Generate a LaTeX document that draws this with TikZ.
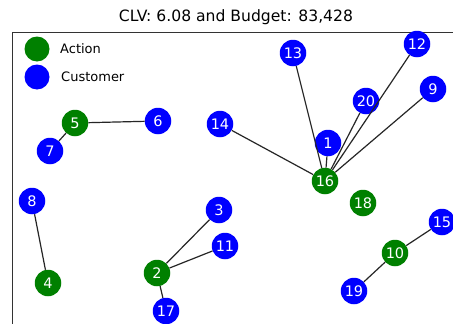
\documentclass[tikz,border=0pt]{standalone}
\usepackage{fontspec}
\setmainfont{DejaVu Sans}
\definecolor{ngreen}{RGB}{0,128,0}
\definecolor{nblue}{RGB}{0,0,255}
\begin{document}
\begin{tikzpicture}[x=1pt,y=-1pt,
  act/.style={circle,fill=ngreen,text=white,minimum size=26.5pt,inner sep=0pt,font=\fontsize{14.5}{15}\selectfont},
  cust/.style={circle,fill=nblue,text=white,minimum size=26.5pt,inner sep=0pt,font=\fontsize{14.5}{15}\selectfont},
  edge/.style={draw=black!85,line width=1.2pt},
  legtext/.style={anchor=west,inner sep=0pt,font=\fontsize{13}{14}\selectfont}]
\useasboundingbox (0,0) rectangle (453,324);
\fill[white] (0,0) rectangle (453,324);
\node[font=\fontsize{15.6}{17}\selectfont] (title) at (236,17) {CLV: 6.08 and Budget: 83,428};
\draw[black!80,line width=0.9pt] (12,330) -- (12,32) -- (460,32);
% legend
\node[act,minimum size=25pt] (la) at (37,49) {};
\node[cust,minimum size=25pt] (lc) at (37,77) {};
\node[legtext] (lat) at (60,49) {Action};
\node[legtext] (lct) at (61,77) {Customer};
% nodes
\foreach \n/\x/\y in {2/157/273,4/48/283,5/75/123,10/395/253,16/325/181,18/363/203}
  \node[act] (n\n) at (\x,\y) {\n};
\foreach \n/\x/\y in {1/328/143,3/219/210,6/158/121,7/50/151,8/32/201,9/433/89,11/225/246,12/417/44,13/293/53,14/220/124,15/442/222,17/166/311,19/354/291,20/366/101}
  \node[cust] (n\n) at (\x,\y) {\n};
% edges
\foreach \a/\b in {5/6,5/7,8/4,2/3,2/11,2/17,10/15,10/19,16/14,16/13,16/1,16/20,16/12,16/9}
  \draw[edge] (n\a) -- (n\b);
\end{tikzpicture}
\end{document}
